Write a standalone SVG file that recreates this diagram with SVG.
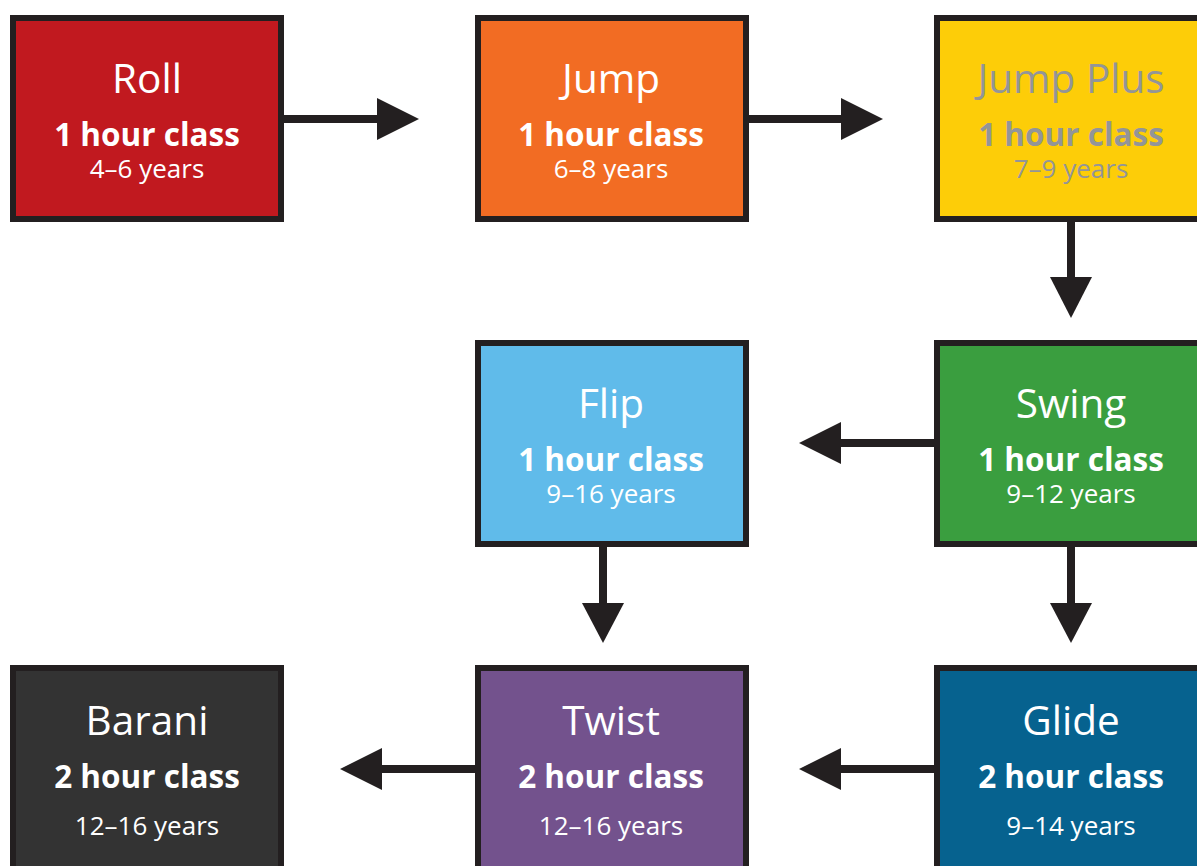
<svg xmlns="http://www.w3.org/2000/svg" width="1197" height="866" viewBox="0 0 1197 866">
<style>
.box{stroke:#231F20;stroke-width:6}
.t{font-family:"Open Sans","Noto Sans",sans-serif;text-anchor:middle;fill:#FFFFFF}
.title{font-size:40.5px}
.cls{font-size:31.5px;font-weight:bold}
.age{font-size:26px}
.gray{fill:#939598}
.ln{stroke:#231F20;stroke-width:8;fill:none}
.hd{fill:#231F20}
</style>
<rect width="1197" height="866" fill="#FFFFFF"/>
<g id="connectors">
<line class="ln" x1="284" y1="119" x2="380" y2="119"/><polygon class="hd" points="377,98 419,119 377,140"/>
<line class="ln" x1="748" y1="119" x2="844" y2="119"/><polygon class="hd" points="841,98 883,119 841,140"/>
<line class="ln" x1="1071" y1="222" x2="1071" y2="280"/><polygon class="hd" points="1050,277 1092,277 1071,318"/>
<line class="ln" x1="934" y1="443" x2="838" y2="443"/><polygon class="hd" points="841,422 799,443 841,464"/>
<line class="ln" x1="603" y1="546" x2="603" y2="606"/><polygon class="hd" points="582,603 624,603 603,643"/>
<line class="ln" x1="1071" y1="546" x2="1071" y2="606"/><polygon class="hd" points="1050,603 1092,603 1071,643"/>
<line class="ln" x1="934" y1="769" x2="838" y2="769"/><polygon class="hd" points="841,748 799,769 841,790"/>
<line class="ln" x1="475" y1="769" x2="379" y2="769"/><polygon class="hd" points="382,748 340,769 382,790"/>
</g>
<g id="roll">
<rect class="box" x="13" y="18" width="268" height="201" fill="#C1191F"/>
<text class="t title" x="147" y="93">Roll</text>
<text class="t cls" x="147" y="146">1 hour class</text>
<text class="t age" x="147" y="178">4–6 years</text>
</g>
<g id="jump">
<rect class="box" x="478" y="18" width="268" height="201" fill="#F26C23"/>
<text class="t title" x="611" y="93">Jump</text>
<text class="t cls" x="611" y="146">1 hour class</text>
<text class="t age" x="611" y="178">6–8 years</text>
</g>
<g id="jumpplus">
<rect class="box" x="937" y="18" width="268" height="201" fill="#FDCD08"/>
<text class="t title gray" x="1071" y="93">Jump Plus</text>
<text class="t cls gray" x="1071" y="146">1 hour class</text>
<text class="t age gray" x="1071" y="178">7–9 years</text>
</g>
<g id="flip">
<rect class="box" x="478" y="343" width="268" height="201" fill="#60BBEA"/>
<text class="t title" x="611" y="418">Flip</text>
<text class="t cls" x="611" y="471">1 hour class</text>
<text class="t age" x="611" y="503">9–16 years</text>
</g>
<g id="swing">
<rect class="box" x="937" y="343" width="268" height="201" fill="#3A9E3F"/>
<text class="t title" x="1071" y="418">Swing</text>
<text class="t cls" x="1071" y="471">1 hour class</text>
<text class="t age" x="1071" y="503">9–12 years</text>
</g>
<g id="barani">
<rect class="box" x="13" y="668" width="268" height="201" fill="#333333"/>
<text class="t title" x="147" y="735">Barani</text>
<text class="t cls" x="147" y="788">2 hour class</text>
<text class="t age" x="147" y="835">12–16 years</text>
</g>
<g id="twist">
<rect class="box" x="478" y="668" width="268" height="201" fill="#73528D"/>
<text class="t title" x="611" y="735">Twist</text>
<text class="t cls" x="611" y="788">2 hour class</text>
<text class="t age" x="611" y="835">12–16 years</text>
</g>
<g id="glide">
<rect class="box" x="937" y="668" width="268" height="201" fill="#06628F"/>
<text class="t title" x="1071" y="735">Glide</text>
<text class="t cls" x="1071" y="788">2 hour class</text>
<text class="t age" x="1071" y="835">9–14 years</text>
</g>
</svg>
